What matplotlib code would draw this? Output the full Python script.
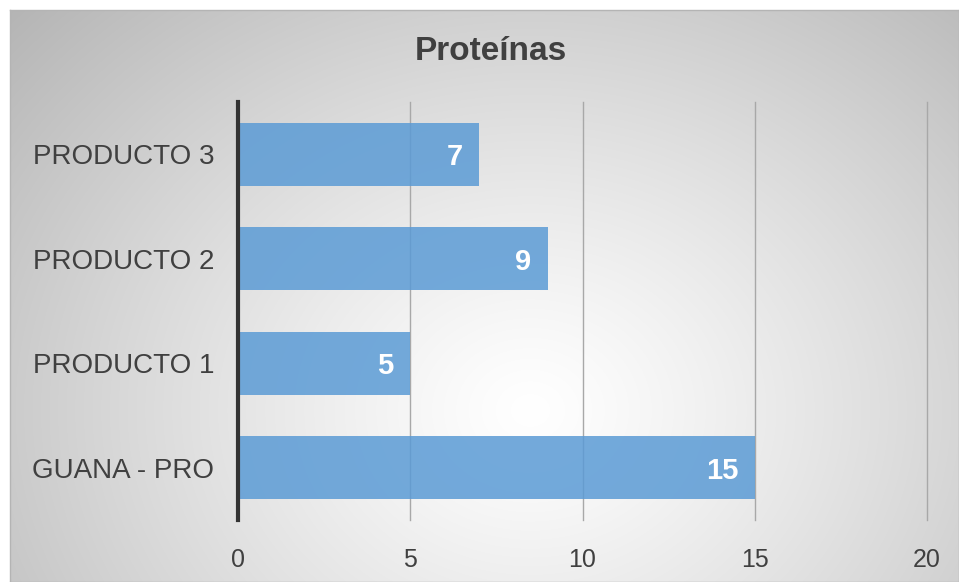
import matplotlib
matplotlib.use("Agg")
import matplotlib.pyplot as plt
import numpy as np

categories = ["GUANA - PRO", "PRODUCTO 1", "PRODUCTO 2", "PRODUCTO 3"]
values = [15, 5, 9, 7]
x_ticks = [0, 5, 10, 15, 20]
title = "Proteínas"

plt.rcParams["font.family"] = ["Liberation Sans", "DejaVu Sans"]

W, H = 959, 582
fig = plt.figure(figsize=(W / 100, H / 100), dpi=100, facecolor="white")

# radial gradient background (white centre, grey edges)
bg = fig.add_axes([10 / W, 0, (W - 10) / W, (H - 10) / H])
gw, gh = 949, 572
yy, xx = np.mgrid[0:gh, 0:gw]
cx, cy = 520, 400
r = np.sqrt(((xx - cx) / 620) ** 2 + ((yy - cy) / 520) ** 2)
shade = 1.0 - 0.25 * np.clip(r, 0, 1.2) ** 1.2
bg.imshow(np.dstack([shade] * 3), aspect="auto", extent=[0, 1, 0, 1], origin="upper")
bg.set_xticks([])
bg.set_yticks([])
for s in bg.spines.values():
    s.set_color("#b4b4b4")
    s.set_linewidth(1.0)

ax = fig.add_axes([238 / W, 62 / H, (927 - 238) / W, (520 - 102) / H])
ax.patch.set_alpha(0)

y = np.arange(len(categories))
bars = ax.barh(y, values, height=0.6, color="#5B9BD5", alpha=0.85, zorder=2)
ax.set_xlim(0, 20)
ax.set_ylim(-0.5, len(categories) - 0.5)
ax.set_xticks(x_ticks)
ax.set_xticklabels([str(t) for t in x_ticks])
ax.set_yticks(y)
ax.set_yticklabels(categories)
ax.grid(axis="x", color="#a8a8a8", linewidth=1.0, zorder=1)
for gl in ax.get_xgridlines():
    gl.set_clip_on(False)
ax.tick_params(axis="x", length=0, labelsize=18, colors="#404040", pad=20)
ax.tick_params(axis="y", length=0, labelsize=20, colors="#404040", pad=17)
for side in ["top", "right", "bottom"]:
    ax.spines[side].set_visible(False)
ax.spines["left"].set_color("#333333")
ax.spines["left"].set_linewidth(3)
ax.spines["left"].set_zorder(3)

for b, v in zip(bars, values):
    ax.annotate(str(v), xy=(b.get_width(), b.get_y() + b.get_height() / 2),
                xytext=(-12, 0), textcoords="offset points",
                ha="right", va="center_baseline", color="white",
                fontsize=21, fontweight="bold", zorder=4)

fig.text(491 / W, 1 - 52 / H, title, ha="center", va="center",
         fontsize=24, fontweight="bold", color="#404040")

fig.savefig("out.png", dpi=100)
